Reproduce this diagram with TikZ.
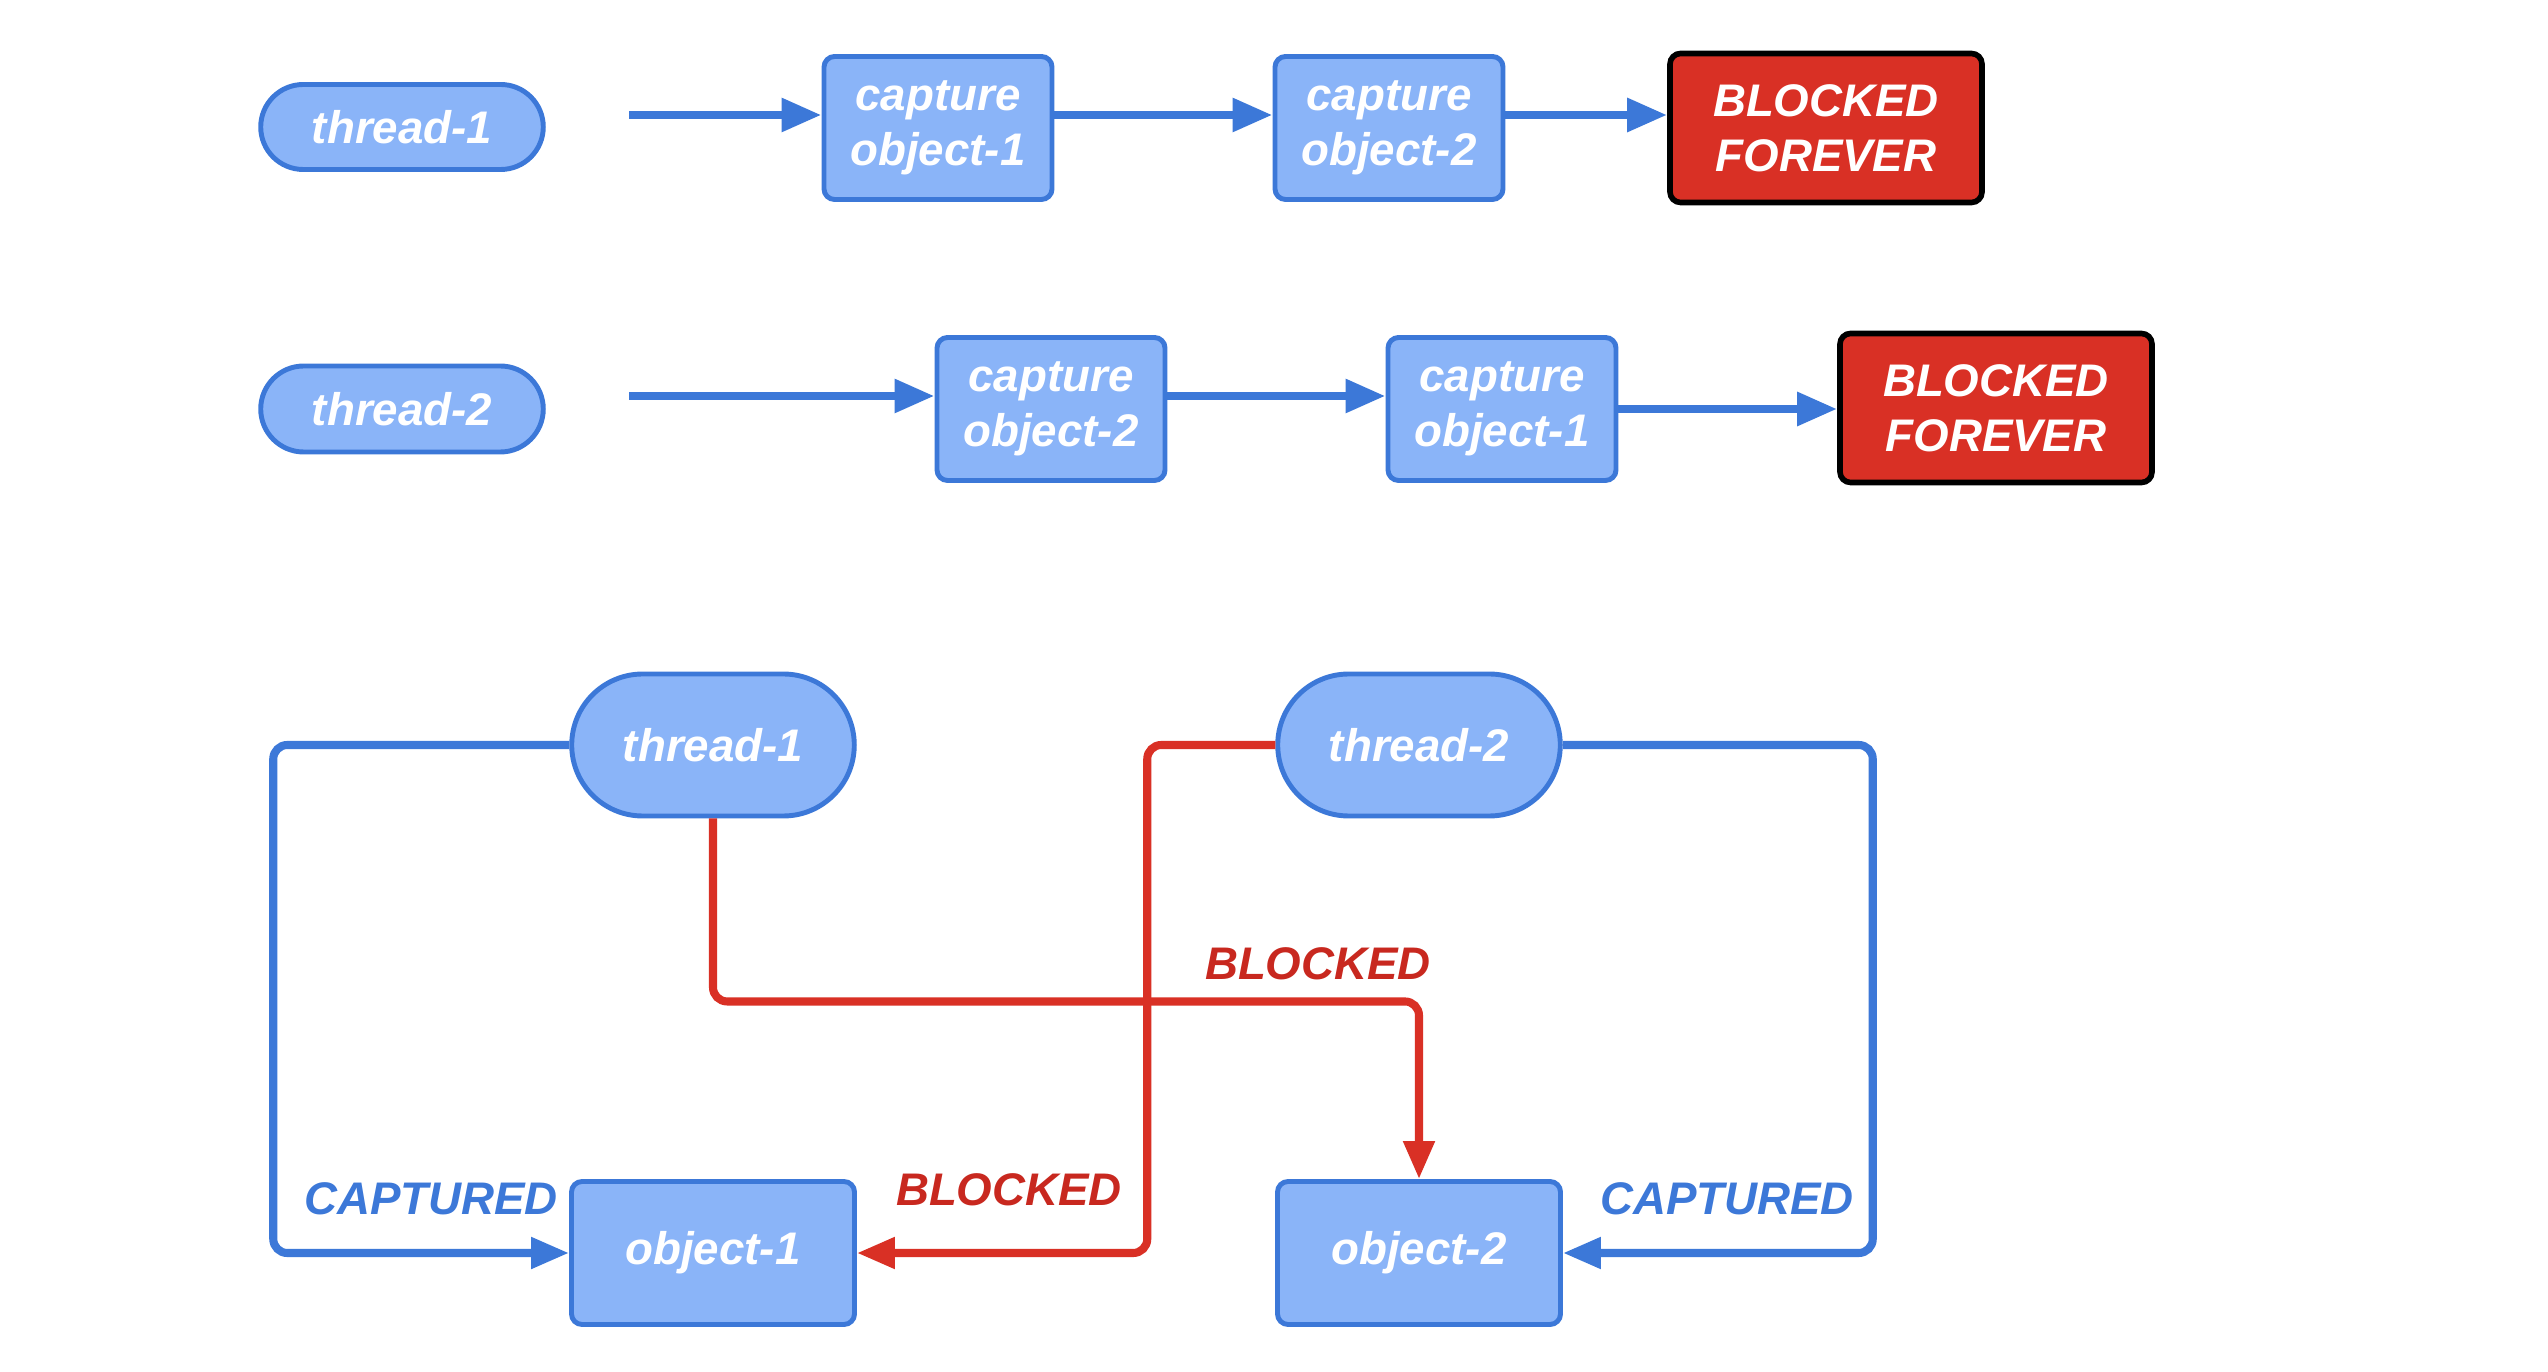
\documentclass[tikz,border=0pt]{standalone}
\usepackage{fontspec}
\setmainfont{Liberation Sans}
\usepackage{tikz}
\usetikzlibrary{arrows.meta, shapes.misc}
\definecolor{boxblue}{HTML}{8AB4F8}
\definecolor{lineblue}{HTML}{3C78D8}
\definecolor{lockred}{HTML}{D93025}
\definecolor{labelred}{HTML}{C8281F}

\begin{document}
\begin{tikzpicture}[font=\bfseries\itshape\fontsize{13}{15.6}\selectfont,
  thread/.style={rounded rectangle, draw=lineblue, fill=boxblue, line width=1.4pt, text=white, minimum width=3.06cm},
  capbox/.style={rectangle, rounded corners=3pt, draw=lineblue, fill=boxblue, line width=1.4pt, text=white, align=center, minimum width=2.28cm, minimum height=1.43cm},
  forever/.style={rectangle, rounded corners=3pt, draw=black, fill=lockred, line width=1.6pt, text=white, align=center, minimum width=3.12cm, minimum height=1.49cm},
  flow/.style={draw=lineblue, line width=2.5pt, -{Triangle[length=0.4cm, width=0.32cm]}},
  holds/.style={draw=lineblue, line width=2.3pt, rounded corners=4pt, -{Triangle[length=0.38cm, width=0.3cm]}},
  waits/.style={draw=lockred, line width=2.3pt, rounded corners=4pt, -{Triangle[length=0.38cm, width=0.3cm]}}]
  \useasboundingbox[fill=white] (0,0) rectangle (25.48,-13.72);

  % thread-1 order
  \node[thread, minimum height=0.85cm] (th1) at (4.02,-1.27) {thread-1};
  \node[capbox] (c11) at (9.38,-1.28) {capture\\object-1};
  \node[capbox] (c12) at (13.89,-1.28) {capture\\object-2};
  \node[forever] (bf1) at (18.26,-1.28) {BLOCKED\\FOREVER};
  \coordinate (s1) at (6.29,-1.15);
  \draw[flow] (s1) -- (s1 -| c11.west);
  \draw[flow] (c11.east |- s1) -- (s1 -| c12.west);
  \draw[flow] (c12.east |- s1) -- (s1 -| bf1.west);

  % thread-2 order
  \node[thread, minimum height=0.86cm] (th2) at (4.02,-4.09) {thread-2};
  \node[capbox] (c22) at (10.51,-4.09) {capture\\object-2};
  \node[capbox] (c21) at (15.02,-4.09) {capture\\object-1};
  \node[forever] (bf2) at (19.96,-4.08) {BLOCKED\\FOREVER};
  \coordinate (s2) at (6.29,-3.96);
  \draw[flow] (s2) -- (s2 -| c22.west);
  \draw[flow] (c22.east |- s2) -- (s2 -| c21.west);
  \draw[flow] (c21.east) -- (c21.east -| bf2.west);

  % deadlock
  \node[thread, minimum height=1.42cm] (t1) at (7.13,-7.45) {thread-1};
  \node[thread, minimum height=1.42cm] (t2) at (14.19,-7.45) {thread-2};
  \node[capbox, minimum width=2.83cm] (o1) at (7.13,-12.53) {object-1};
  \node[capbox, minimum width=2.83cm] (o2) at (14.19,-12.53) {object-2};
  \draw[holds] (t1.west) -- ++(-2.96,0) |- (o1.west);
  \draw[holds] (t2.east) -- ++(3.10,0) |- (o2.east);
  \draw[waits] (t1.south) -- ++(0,-1.83) -| (o2.north);
  \draw[waits] (t2.west) -- ++(-1.28,0) |- (o1.east);
  \node[text=lineblue] (cap1) at (4.31,-11.99) {CAPTURED};
  \node[text=lineblue] (cap2) at (17.27,-11.99) {CAPTURED};
  \node[text=labelred] (blk1) at (13.18,-9.64) {BLOCKED};
  \node[text=labelred] (blk2) at (10.09,-11.90) {BLOCKED};
\end{tikzpicture}
\end{document}
